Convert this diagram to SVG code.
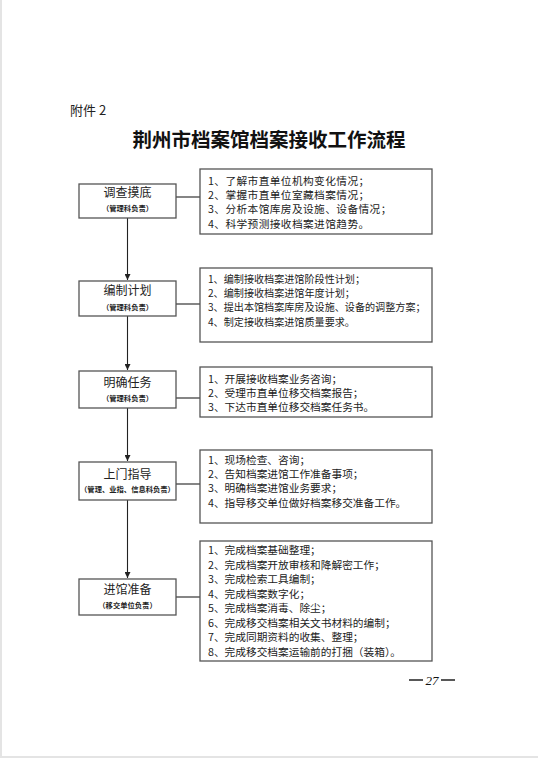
<svg xmlns="http://www.w3.org/2000/svg" width="538" height="758" viewBox="0 0 538 758">
<defs>
<style>
.bx{fill:#fff;stroke:#555;stroke-width:1.3}
.ln{stroke:#222;stroke-width:1.1;fill:none}
.lab{font-family:"Noto Sans CJK SC","Noto Sans",sans-serif;font-size:12px;fill:#222;text-anchor:middle}
.sub{font-family:"Noto Sans CJK SC","Noto Sans",sans-serif;font-size:7.3px;font-weight:bold;fill:#222;text-anchor:middle}
.it{font-family:"Noto Sans CJK SC","Noto Sans",sans-serif;font-size:10.7px;fill:#222}
.it2{font-family:"Noto Sans CJK SC","Noto Sans",sans-serif;font-size:10.1px;fill:#222}
</style>
<marker id="ah" viewBox="0 0 6 6" refX="6" refY="3" markerWidth="6" markerHeight="6" markerUnits="userSpaceOnUse" orient="auto">
<path d="M0,0 L6,3 L0,6 Z" fill="#222"/>
</marker>
</defs>
<rect x="0" y="0" width="538" height="758" fill="#fff"/>
<rect x="0" y="0" width="2" height="758" fill="#e4e4e4"/>
<rect x="0" y="756" width="538" height="2" fill="#e4e4e4"/>

<text x="70" y="115" font-family="'Noto Sans CJK SC','Noto Sans',sans-serif" font-size="13" fill="#222">附件 2</text>
<text x="269" y="147" font-family="'Noto Sans CJK SC',sans-serif" font-size="19.5" font-weight="bold" fill="#111" text-anchor="middle">荆州市档案馆档案接收工作流程</text>

<g id="connectors">
<line class="ln" x1="127.5" y1="218" x2="127.5" y2="280" marker-end="url(#ah)"/>
<line class="ln" x1="127.5" y1="316" x2="127.5" y2="370" marker-end="url(#ah)"/>
<line class="ln" x1="127.5" y1="408" x2="127.5" y2="461" marker-end="url(#ah)"/>
<line class="ln" x1="127.5" y1="500" x2="127.5" y2="578" marker-end="url(#ah)"/>
<line class="ln" x1="176" y1="197" x2="200" y2="197"/>
<line class="ln" x1="176" y1="304" x2="200" y2="304"/>
<line class="ln" x1="176" y1="398" x2="200" y2="398"/>
<line class="ln" x1="176" y1="484" x2="200" y2="484"/>
<line class="ln" x1="176" y1="597" x2="200" y2="597"/>
</g>

<g id="n1">
<rect class="bx" x="79" y="184" width="97" height="34"/>
<text class="lab" x="127.5" y="197">调查摸底</text>
<text class="sub" x="127.5" y="211">（管理科负责）</text>
</g>
<g id="d1">
<rect class="bx" x="200" y="169" width="232" height="65"/>
<text class="it" x="208" y="185" letter-spacing="0.4">1、了解市直单位机构变化情况；</text>
<text class="it" x="208" y="199" letter-spacing="0.4">2、掌握市直单位室藏档案情况；</text>
<text class="it" x="208" y="213" letter-spacing="0.4">3、分析本馆库房及设施、设备情况；</text>
<text class="it" x="208" y="228" letter-spacing="0.4">4、科学预测接收档案进馆趋势。</text>
</g>

<g id="n2">
<rect class="bx" x="79" y="281" width="97" height="35"/>
<text class="lab" x="127.5" y="295">编制计划</text>
<text class="sub" x="127.5" y="310">（管理科负责）</text>
</g>
<g id="d2">
<rect class="bx" x="200" y="268" width="232" height="74"/>
<text class="it2" x="208" y="283">1、编制接收档案进馆阶段性计划；</text>
<text class="it2" x="208" y="297">2、编制接收档案进馆年度计划；</text>
<text class="it2" x="208" y="311">3、提出本馆档案库房及设施、设备的调整方案；</text>
<text class="it2" x="208" y="326">4、制定接收档案进馆质量要求。</text>
</g>

<g id="n3">
<rect class="bx" x="79" y="371" width="97" height="37"/>
<text class="lab" x="127.5" y="387">明确任务</text>
<text class="sub" x="127.5" y="401">（管理科负责）</text>
</g>
<g id="d3">
<rect class="bx" x="200" y="367" width="232" height="50"/>
<text class="it" x="208" y="383">1、开展接收档案业务咨询；</text>
<text class="it" x="208" y="397">2、受理市直单位移交档案报告；</text>
<text class="it" x="208" y="411">3、下达市直单位移交档案任务书。</text>
</g>

<g id="n4">
<rect class="bx" x="79" y="462" width="97" height="38"/>
<text class="lab" x="127.5" y="479">上门指导</text>
<text class="sub" x="127.5" y="492">（管理、业指、信息科负责）</text>
</g>
<g id="d4">
<rect class="bx" x="200" y="450" width="232" height="73"/>
<text class="it" x="208" y="464">1、现场检查、咨询；</text>
<text class="it" x="208" y="478">2、告知档案进馆工作准备事项；</text>
<text class="it" x="208" y="492">3、明确档案进馆业务要求；</text>
<text class="it" x="208" y="507">4、指导移交单位做好档案移交准备工作。</text>
</g>

<g id="n5">
<rect class="bx" x="79" y="579" width="97" height="36"/>
<text class="lab" x="127.5" y="594">进馆准备</text>
<text class="sub" x="127.5" y="608">（移交单位负责）</text>
</g>
<g id="d5">
<rect class="bx" x="200" y="541" width="232" height="120"/>
<text class="it" x="208" y="554">1、完成档案基础整理；</text>
<text class="it" x="208" y="569">2、完成档案开放审核和降解密工作；</text>
<text class="it" x="208" y="583">3、完成检索工具编制；</text>
<text class="it" x="208" y="598">4、完成档案数字化；</text>
<text class="it" x="208" y="612">5、完成档案消毒、除尘；</text>
<text class="it" x="208" y="627">6、完成移交档案相关文书材料的编制；</text>
<text class="it" x="208" y="641">7、完成同期资料的收集、整理；</text>
<text class="it" x="208" y="656">8、完成移交档案运输前的打捆（装箱）。</text>
</g>

<g id="page">
<line x1="409" y1="680" x2="423" y2="680" stroke="#111" stroke-width="1.4"/>
<text x="432" y="684.5" font-family="'Liberation Serif',serif" font-style="italic" font-size="13" fill="#111" text-anchor="middle">27</text>
<line x1="441" y1="680" x2="455" y2="680" stroke="#111" stroke-width="1.4"/>
</g>
</svg>
